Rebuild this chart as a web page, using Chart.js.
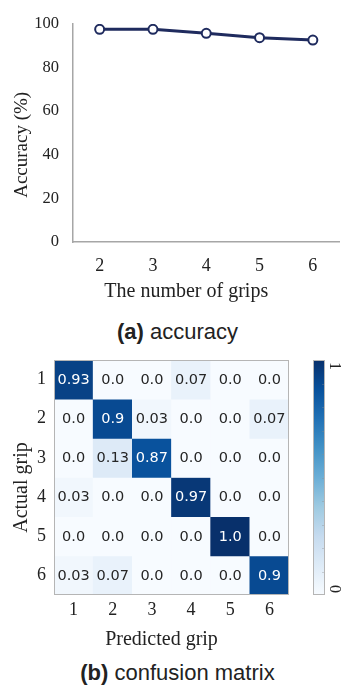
<!DOCTYPE html>
<html><head><meta charset="utf-8">
<script src="https://cdn.jsdelivr.net/npm/chart.js@4.4.0/dist/chart.umd.min.js"></script>
<style>
html,body{margin:0;padding:0;background:#fff;width:343px;height:691px;overflow:hidden;position:relative;}
canvas{position:absolute;}
.cap{position:absolute;left:6px;width:343px;text-align:center;font-family:"Liberation Sans",Arial,sans-serif;font-size:22px;line-height:26px;color:#222;}
</style></head><body>
<div style="position:absolute;left:0;top:0;width:346px;height:305px"><canvas id="c1"></canvas></div>
<div class="cap" style="top:319px"><b>(a)</b> accuracy</div>
<div style="position:absolute;left:0;top:340px;width:300px;height:316px"><canvas id="c2"></canvas></div>
<div style="position:absolute;left:300px;top:340px;width:43px;height:270px"><canvas id="c3"></canvas></div>
<div class="cap" style="top:660px"><b>(b)</b> confusion matrix</div>
<script>
// ---- data ----
const gripCounts = ['2','3','4','5','6'];
const accuracy = [97.5, 97.5, 95.7, 93.7, 92.6];
const accTicks = [0,20,40,60,80,100];

const predictedLabels = ['1','2','3','4','5','6'];
const actualLabels = ['1','2','3','4','5','6'];
const row1 = [0.93, 0.0, 0.0, 0.07, 0.0, 0.0];
const row2 = [0.0, 0.9, 0.03, 0.0, 0.0, 0.07];
const row3 = [0.0, 0.13, 0.87, 0.0, 0.0, 0.0];
const row4 = [0.03, 0.0, 0.0, 0.97, 0.0, 0.0];
const row5 = [0.0, 0.0, 0.0, 0.0, 1.0, 0.0];
const row6 = [0.03, 0.07, 0.0, 0.0, 0.0, 0.9];
const matrixRows = [row1,row2,row3,row4,row5,row6];
const colorbarTicks = ['0','1'];

// Blues colormap
const blues = ['#f7fbff','#deebf7','#c6dbef','#9ecae1','#6baed6','#4292c6','#2171b5','#08519c','#08306b'];
function hex(h){return [parseInt(h.slice(1,3),16),parseInt(h.slice(3,5),16),parseInt(h.slice(5,7),16)];}
function bluesColor(v){
  v=Math.max(0,Math.min(1,v));
  const p=v*(blues.length-1), i=Math.min(Math.floor(p),blues.length-2), f=p-i;
  const a=hex(blues[i]), b=hex(blues[i+1]);
  return 'rgb('+a.map((x,k)=>Math.round(x+(b[k]-x)*f)).join(',')+')';
}

const serif = '"Liberation Serif","Times New Roman",serif';
const sans = '"DejaVu Sans",sans-serif';
const pad = n => '\u00a0'.repeat(n);   // trailing space to nudge title position

// ---- chart (a) ----
new Chart(document.getElementById('c1'), {
  type:'line',
  data:{labels:gripCounts, datasets:[{data:accuracy, borderColor:'#1f2b5e', borderWidth:3,
    pointRadius:4.5, pointBorderWidth:2, pointBackgroundColor:'#fff', pointBorderColor:'#1f2b5e', tension:0}]},
  options:{responsive:true, maintainAspectRatio:false, animation:false,
    layout:{padding:{top:15,right:0,left:0,bottom:0}},
    plugins:{legend:{display:false}, tooltip:{enabled:false}},
    scales:{
      x:{offset:true, grid:{display:false,drawTicks:false,tickLength:0}, border:{color:'#a6a6a6',width:1.5},
        ticks:{font:{family:serif,size:18},color:'#222',padding:13},
        title:{display:true,text:'The number of grips'+pad(8),font:{family:serif,size:20},color:'#222',padding:{top:4,bottom:1}},
        afterFit:s=>{s.height=63;}},
      y:{min:0,max:100, grid:{display:false,drawTicks:false,tickLength:0}, border:{color:'#a6a6a6',width:1.5},
        afterBuildTicks:s=>{s.ticks=accTicks.map(v=>({value:v}));},
        ticks:{font:{family:serif,size:16.5},color:'#222',padding:14},
        title:{display:true,text:'Accuracy (%)'+pad(5),font:{family:serif,size:19},color:'#222',padding:{top:11,bottom:0}},
        afterFit:s=>{s.width=73;}}
    }}
});

// ---- chart (b) heatmap ----
const cellText = {
  id:'cellText',
  afterDatasetsDraw(chart){
    const ctx=chart.ctx; ctx.save();
    ctx.font='14.5px '+sans; ctx.textAlign='center'; ctx.textBaseline='middle';
    chart.data.datasets.forEach((ds,i)=>{
      const meta=chart.getDatasetMeta(i);
      meta.data.forEach((el,j)=>{
        const v=matrixRows[i][j];
        ctx.fillStyle = v>0.5 ? '#ffffff' : '#262626';
        ctx.fillText(v.toFixed(Math.max(1,(String(v).split('.')[1]||'').length)), el.x, (el.y+el.base)/2+0.5);
      });
    });
    const a=chart.chartArea;
    ctx.strokeStyle='#b5b5b5'; ctx.lineWidth=1;
    ctx.strokeRect(a.left+0.5,a.top+0.5,a.right-a.left-1,a.bottom-a.top-1);
    ctx.restore();
  }
};
new Chart(document.getElementById('c2'), {
  type:'bar',
  data:{labels:predictedLabels, datasets: matrixRows.map((r,i)=>({
    data:r.map(()=>[i+0.5,i+1.5]),
    backgroundColor:r.map(v=>bluesColor(v)),
    borderWidth:0, barPercentage:1, categoryPercentage:1, grouped:false}))},
  options:{responsive:true, maintainAspectRatio:false, animation:false,
    layout:{padding:{top:20,right:11,left:0,bottom:0}},
    plugins:{legend:{display:false}, tooltip:{enabled:false}},
    scales:{
      x:{grid:{display:false,drawTicks:false,tickLength:0}, border:{display:false},
        ticks:{font:{family:serif,size:18},color:'#222',padding:4},
        title:{display:true,text:'Predicted grip'+pad(4),font:{family:serif,size:20},color:'#222',padding:{top:6,bottom:4}},
        afterFit:s=>{s.height=61;}},
      y:{reverse:true,min:0.5,max:6.5, grid:{display:false,drawTicks:false,tickLength:0}, border:{display:false},
        afterBuildTicks:s=>{s.ticks=actualLabels.map(v=>({value:+v}));},
        ticks:{font:{family:serif,size:18},color:'#222',padding:8},
        title:{display:true,text:'Actual grip'+pad(4),font:{family:serif,size:20},color:'#222',padding:{top:10,bottom:0}},
        afterFit:s=>{s.width=54;}}
    }},
  plugins:[cellText]
});

// ---- colorbar ----
const cbPlugin = {
  id:'cb',
  afterDatasetsDraw(chart){
    const ctx=chart.ctx, a=chart.chartArea, y=chart.scales.y;
    ctx.save();
    ctx.strokeStyle='#b5b5b5'; ctx.lineWidth=1;
    ctx.strokeRect(a.left+0.5,a.top+0.5,a.right-a.left-1,a.bottom-a.top-1);
    ctx.strokeStyle='rgba(140,140,140,0.35)';
    for(let k=1;k<10;k++){const py=Math.round(y.getPixelForValue(k/10))+0.5;
      ctx.beginPath();ctx.moveTo(a.right-3,py);ctx.lineTo(a.right-1,py);ctx.stroke();}
    ctx.fillStyle='#222'; ctx.font='16px '+serif; ctx.textBaseline='middle';
    colorbarTicks.forEach(t=>{
      const v=+t; const py=y.getPixelForValue(v) + (v===1?6:-6);
      ctx.save(); ctx.translate(a.right+5,py); ctx.rotate(Math.PI/2); ctx.textAlign='center';
      ctx.fillText(t,0,-4); ctx.restore();
    });
    ctx.restore();
  }
};
new Chart(document.getElementById('c3'), {
  type:'bar',
  data:{labels:['cb'], datasets:[{data:[[0,1]], borderWidth:0, barPercentage:1, categoryPercentage:1,
    backgroundColor:(c)=>{
      const a=c.chart.chartArea; if(!a) return '#6baed6';
      const g=c.chart.ctx.createLinearGradient(0,a.bottom,0,a.top);
      blues.forEach((col,i)=>g.addColorStop(i/(blues.length-1),col));
      return g;}}]},
  options:{responsive:true, maintainAspectRatio:false, animation:false,
    layout:{padding:{top:20,right:18,left:13,bottom:15}},
    plugins:{legend:{display:false}, tooltip:{enabled:false}},
    scales:{x:{display:false}, y:{display:false,min:0,max:1}}},
  plugins:[cbPlugin]
});
</script>
</body></html>
